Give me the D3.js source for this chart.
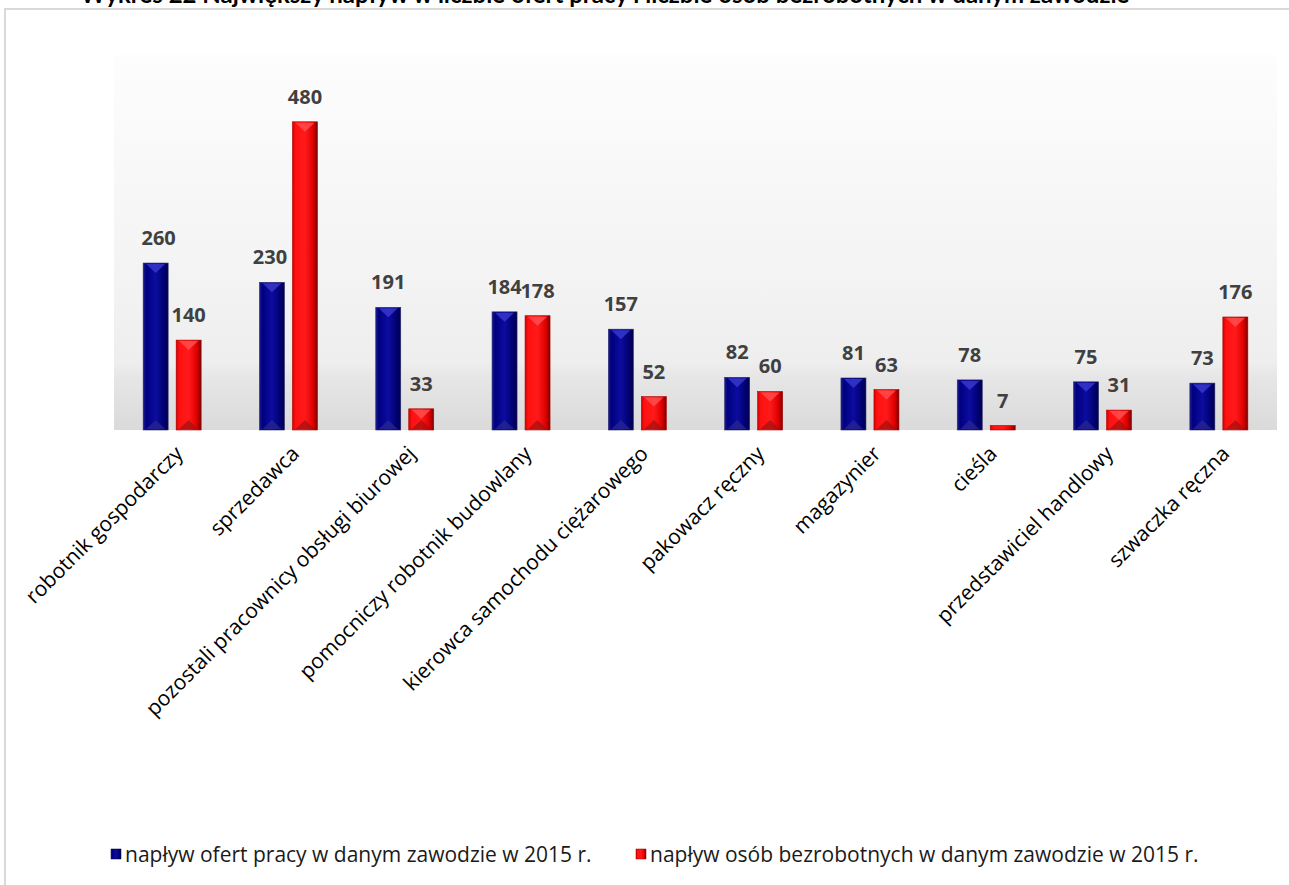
<!DOCTYPE html>
<html><head><meta charset="utf-8">
<script src="https://cdn.jsdelivr.net/npm/d3@7"></script>
<style>body{margin:0;background:#fff}svg{display:block}</style>
</head><body>
<script>
const categories = ["robotnik gospodarczy","sprzedawca","pozostali pracownicy obsługi biurowej","pomocniczy robotnik budowlany","kierowca samochodu ciężarowego","pakowacz ręczny","magazynier","cieśla","przedstawiciel handlowy","szwaczka ręczna"];
const offers = [260,230,191,184,157,82,81,78,75,73];
const unemployed = [140,480,33,178,52,60,63,7,31,176];
const seriesNames = ["napływ ofert pracy w danym zawodzie w 2015 r.","napływ osób bezrobotnych w danym zawodzie w 2015 r."];
const title = "Wykres 22 Największy napływ w liczbie ofert pracy i liczbie osób bezrobotnych w danym zawodzie";

const W=1289,H=885;
const svg=d3.select("body").append("svg").attr("width",W).attr("height",H);
const defs=svg.append("defs");
const bg=defs.append("linearGradient").attr("id","bg").attr("x1",0).attr("y1",0).attr("x2",0).attr("y2",1);
[[0,"#fdfdfd"],[0.55,"#f4f4f4"],[0.82,"#eeeeee"],[0.86,"#e6e6e6"],[1,"#dadada"]].forEach(s=>bg.append("stop").attr("offset",s[0]).attr("stop-color",s[1]));
function hgrad(id,stops){const g=defs.append("linearGradient").attr("id",id).attr("x1",0).attr("y1",0).attr("x2",1).attr("y2",0);stops.forEach(s=>g.append("stop").attr("offset",s[0]).attr("stop-color",s[1]));}
hgrad("gb",[[0,"#1c1c8c"],[0.12,"#000080"],[0.5,"#0c0ca0"],[0.85,"#00006e"],[1,"#00004a"]]);
hgrad("gr",[[0,"#d00000"],[0.12,"#ff1010"],[0.5,"#ff1a1a"],[0.82,"#e00000"],[1,"#7a0000"]]);

// frame
svg.append("line").attr("x1",4).attr("x2",W).attr("y1",9).attr("y2",9).attr("stroke","#d9d9d9").attr("stroke-width",2);
svg.append("line").attr("x1",5).attr("x2",5).attr("y1",9).attr("y2",H).attr("stroke","#d9d9d9").attr("stroke-width",2);

// title (cut off at top, as in the reference)
svg.append("text").attr("x",605).attr("y",3).attr("text-anchor","middle")
  .attr("font-family","Lato, 'Open Sans', sans-serif").attr("font-weight","bold").attr("font-size",24).attr("fill","#000").text(title);

const x0=114,x1=1277,yTop=55,yBase=430;
const x=d3.scaleBand().domain(categories).range([x0,x1]);
const y=d3.scaleLinear().domain([0,584]).range([yBase,yTop]);
svg.append("rect").attr("x",x0).attr("y",yTop).attr("width",x1-x0).attr("height",yBase-yTop).attr("fill","url(#bg)");

const bw=25, off=[-29,4];
const series=[offers,unemployed];
const fills=["url(#gb)","url(#gr)"];
const tops=["#3a3ad0","#ff5050"], bots=["#2a2a90","#a01010"];
series.forEach((vals,si)=>{
  const g=svg.append("g");
  categories.forEach((c,i)=>{
    const bx=x(c)+x.bandwidth()/2+off[si];
    const by=y(vals[i]); const h=yBase-by;
    g.append("rect").attr("x",bx).attr("y",by).attr("width",bw).attr("height",h).attr("fill",fills[si]);
    if(h>8){
      const t=Math.min(10,h/2);
      g.append("path").attr("d",`M${bx+3},${by+1}L${bx+bw-3},${by+1}L${bx+bw/2},${by+t}Z`).attr("fill",tops[si]).attr("opacity",0.8);
      g.append("path").attr("d",`M${bx+3},${yBase-1}L${bx+bw-3},${yBase-1}L${bx+bw/2},${yBase-t}Z`).attr("fill",bots[si]).attr("opacity",0.7);
    }
    g.append("rect").attr("x",bx).attr("y",by).attr("width",bw).attr("height",h).attr("fill","none").attr("stroke",si?"#b00000":"#2a2a70").attr("stroke-width",0.6);
    svg.append("text").attr("x",bx+bw/2+(si===0&&i===1?-2:0)+(si===0&&i===0?3:0)).attr("y",by-18)
      .attr("text-anchor","middle").attr("font-family","'Open Sans', Lato, sans-serif").attr("font-weight","bold")
      .attr("font-size",20).attr("fill","#404040").text(vals[i]);
  });
});

// category labels
categories.forEach(c=>{
  const cx=x(c)+x.bandwidth()/2+12, cy=455;
  svg.append("text").attr("transform",`translate(${cx},${cy}) rotate(-45)`).attr("text-anchor","end")
    .attr("font-family","'Open Sans', Lato, sans-serif").attr("font-size",21).attr("fill","#000").text(c);
});

// legend
const leg=[[111,0],[636,1]];
leg.forEach(([lx,si])=>{
  svg.append("rect").attr("x",lx).attr("y",849).attr("width",10).attr("height",10).attr("fill",fills[si]).attr("stroke",si?"#900":"#003").attr("stroke-width",0.5);
  svg.append("text").attr("x",lx+14).attr("y",862).attr("font-family","'Open Sans', Lato, sans-serif").attr("font-size",21).attr("fill","#1a1a1a").text(seriesNames[si]);
});
</script>
</body></html>
